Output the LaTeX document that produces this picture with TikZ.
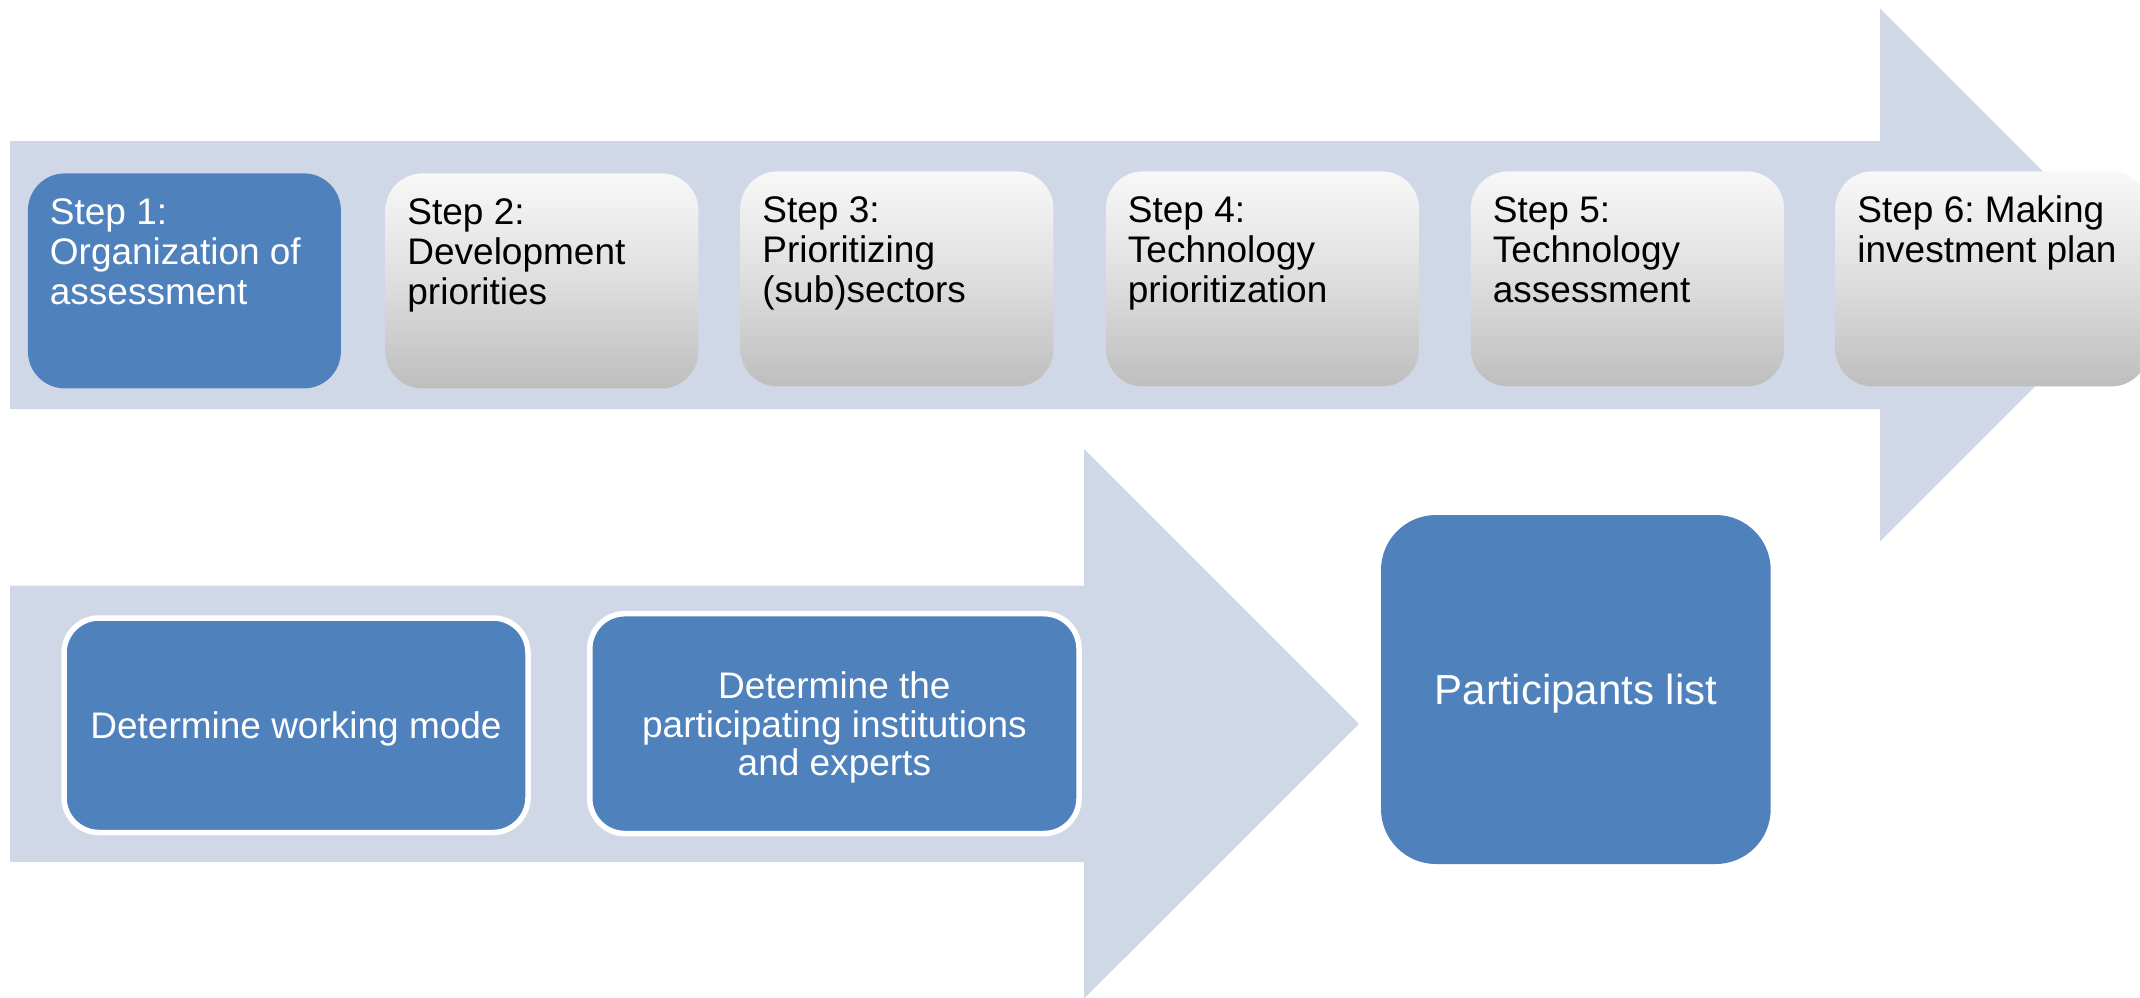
\documentclass[tikz,border=0pt]{standalone}
\usepackage{fontspec}
\setmainfont{Liberation Sans}
\frenchspacing
\definecolor{band}{HTML}{D0D8E8}
\definecolor{bluebox}{HTML}{4F81BD}
\definecolor{gtop}{HTML}{F8F8F8}
\definecolor{gmid}{HTML}{DEDEDE}
\definecolor{gbot}{HTML}{BEBEBE}
\newcommand\stk[1]{\begin{tabular}[t]{@{}l@{}}#1\end{tabular}}
\begin{document}
\begin{tikzpicture}[x=0.5pt,y=-0.5pt,
  stepbox/.style={rectangle, rounded corners=18.5pt, minimum width=156.5pt,
    minimum height=107.5pt, inner sep=0pt, anchor=north west},
  bluestep/.style={stepbox, fill=bluebox},
  graystep/.style={stepbox, top color=gtop, bottom color=gbot, middle color=gmid},
  steptext/.style={anchor=base west, inner sep=0pt,
    font=\fontsize{18.5pt}{20pt}\selectfont},
  lowbox/.style={rectangle, rounded corners=17.5pt, fill=bluebox, draw=white,
    line width=2.75pt, text=white, align=center, inner sep=0pt, text depth=0pt,
    font=\fontsize{18.5pt}{19.25pt}\selectfont},
  partbox/.style={rectangle, rounded corners=27.5pt, fill=bluebox, text=white,
    align=center, inner sep=0pt, text depth=0pt, font=\fontsize{21pt}{24pt}\selectfont}
]
\useasboundingbox (0,0) rectangle (2140,997);
\clip (0,0) rectangle (2140,997);
% big arrows
\fill[band] (10,141) -- (1880,141) -- (1880,8.3) -- (2146.7,275)
  -- (1880,541.7) -- (1880,409) -- (10,409) -- cycle;
\fill[band] (10,585.7) -- (1084,585.7) -- (1084,449) -- (1358.9,723.9)
  -- (1084,998.7) -- (1084,862) -- (10,862) -- cycle;
% step boxes
\node[bluestep] (s1) at (27.5,173) {};
\node[graystep] (s2) at (385,173) {};
\node[graystep] (s3) at (740,171) {};
\node[graystep] (s4) at (1105.5,171) {};
\node[graystep] (s5) at (1470.5,171) {};
\node[graystep] (s6) at (1835,171) {};
% step texts
\node[steptext, text=white] (t1) at ([shift={(22,51)}]s1.north west)
  {\stk{Step 1:\\Organization of\\assessment}};
\node[steptext] (t2) at ([shift={(22,51)}]s2.north west)
  {\stk{Step 2:\\Development\\priorities}};
\node[steptext] (t3) at ([shift={(22,51)}]s3.north west)
  {\stk{Step 3:\\Prioritizing\\(sub)sectors}};
\node[steptext] (t4) at ([shift={(22,51)}]s4.north west)
  {\stk{Step 4:\\Technology\\prioritization}};
\node[steptext] (t5) at ([shift={(22,51)}]s5.north west)
  {\stk{Step 5:\\Technology\\assessment}};
\node[steptext] (t6) at ([shift={(22,51)}]s6.north west)
  {\stk{Step 6: Making\\investment plan}};
% lower boxes
\node[lowbox, minimum width=232pt, minimum height=107.25pt] (b1) at (296,725.25)
  {Determine working mode};
\node[lowbox, minimum width=244.6pt, minimum height=109.9pt] (b2) at (834.4,723.6)
  {Determine the\\participating institutions\\and experts};
\node[partbox, minimum width=194.85pt, minimum height=174.5pt] (p) at (1575.85,689.5)
  {Participants list};
\end{tikzpicture}
\end{document}
